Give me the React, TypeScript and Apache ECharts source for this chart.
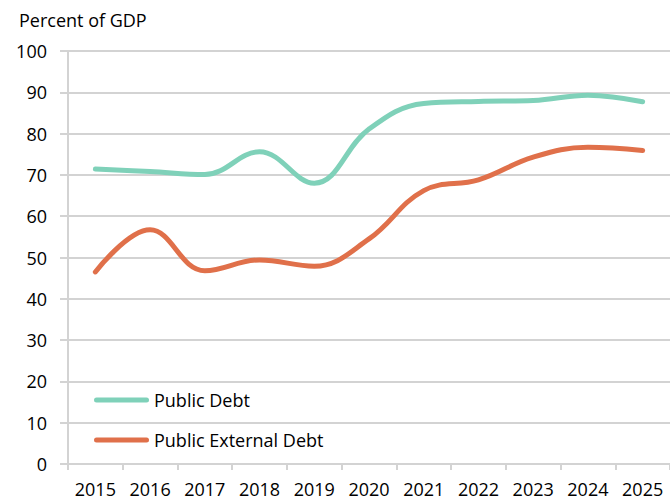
import React, { useEffect, useRef } from "react";
import * as echarts from "echarts";

const years = ["2015", "2016", "2017", "2018", "2019", "2020", "2021", "2022", "2023", "2024", "2025"];
const publicDebt = [71.4, 70.8, 70.1, 75.6, 68.0, 81.1, 87.3, 87.8, 88.0, 89.3, 87.7];
const publicExternalDebt = [46.5, 56.7, 46.8, 49.4, 47.9, 54.5, 66.2, 68.8, 74.3, 76.7, 75.9];

const FONT = "'Open Sans', 'Liberation Sans', sans-serif";
const GRID_COLOR = "#d3d3d3";
const LEGEND_ICON = "path://M2.5,0 L52.5,0 A2.5,2.5 0 0 1 52.5,5 L2.5,5 A2.5,2.5 0 0 1 2.5,0 Z";

export default function App() {
  const ref = useRef<HTMLDivElement>(null);
  useEffect(() => {
    if (!ref.current) return;
    const chart = echarts.init(ref.current, undefined, { renderer: "svg" });
    chart.setOption({
      animation: false,
      backgroundColor: "#ffffff",
      textStyle: { fontFamily: FONT },
      title: {
        text: "Percent of GDP",
        left: 14,
        top: 6,
        textStyle: { fontFamily: FONT, fontSize: 18, fontWeight: "normal", color: "#000" },
      },
      legend: {
        orient: "vertical",
        left: 89,
        top: 385,
        icon: LEGEND_ICON,
        itemWidth: 55,
        itemHeight: 5,
        itemGap: 20,
        textStyle: { fontFamily: FONT, fontSize: 18, color: "#000", lineHeight: 20 },
        data: ["Public Debt", "Public External Debt"],
      },
      grid: { left: 68, right: 0, top: 51, bottom: 36, containLabel: false },
      xAxis: {
        type: "category",
        data: years,
        boundaryGap: true,
        axisLine: { show: true, lineStyle: { color: GRID_COLOR, width: 2 } },
        axisTick: { show: true, length: 6, lineStyle: { color: GRID_COLOR, width: 2 } },
        axisLabel: { fontFamily: FONT, fontSize: 18, color: "#000", margin: 16 },
        splitLine: { show: false },
      },
      yAxis: {
        type: "value",
        min: 0,
        max: 100,
        interval: 10,
        axisLine: { show: true, lineStyle: { color: GRID_COLOR, width: 2 } },
        axisTick: { show: true, length: 8, lineStyle: { color: GRID_COLOR, width: 2 } },
        axisLabel: { fontFamily: FONT, fontSize: 18, color: "#000", margin: 21 },
        splitLine: { show: true, lineStyle: { color: GRID_COLOR, width: 2 } },
      },
      series: [
        {
          name: "Public Debt",
          type: "line",
          data: publicDebt,
          smooth: 0.4,
          symbol: "none",
          lineStyle: { color: "#7fd1b9", width: 5, cap: "round" },
          itemStyle: { color: "#7fd1b9" },
        },
        {
          name: "Public External Debt",
          type: "line",
          data: publicExternalDebt,
          smooth: 0.4,
          symbol: "none",
          lineStyle: { color: "#e0704a", width: 5, cap: "round" },
          itemStyle: { color: "#e0704a" },
        },
      ],
    });
    return () => chart.dispose();
  }, []);
  return <div ref={ref} style={{ width: 670, height: 500, position: "absolute", left: 0, top: 0 }} />;
}
